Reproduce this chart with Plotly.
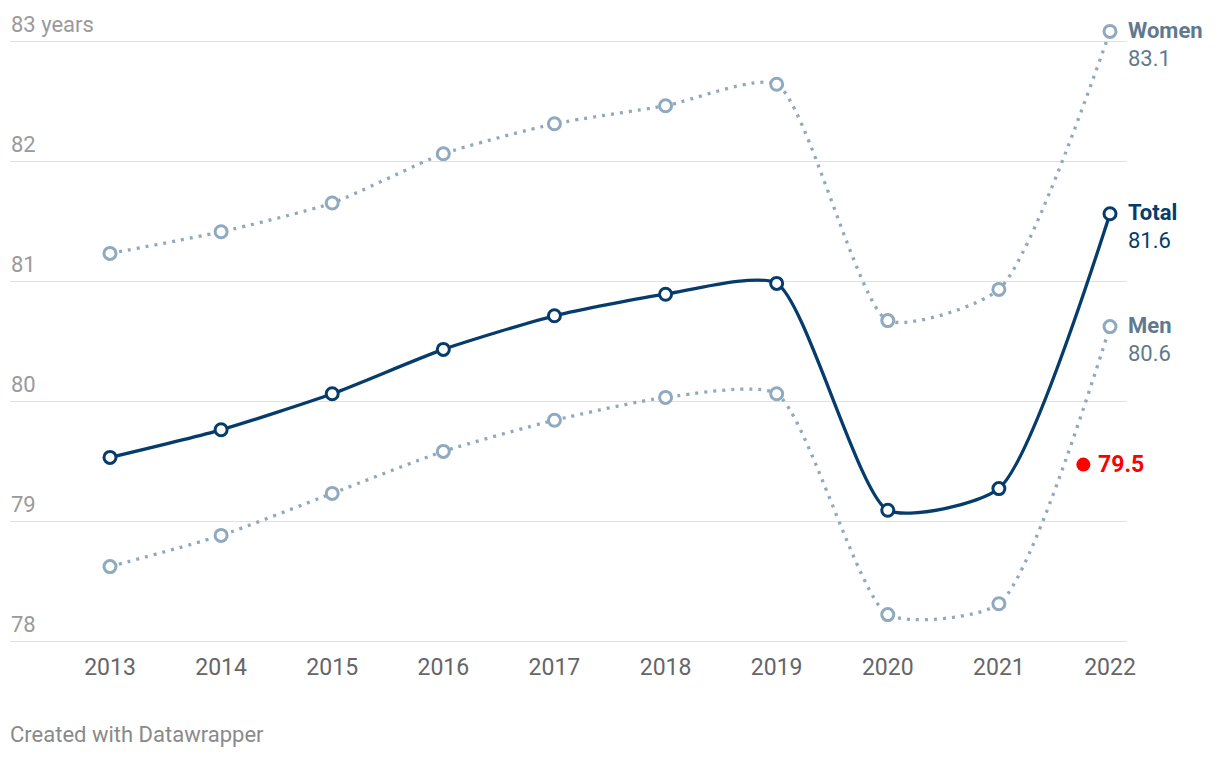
import plotly.graph_objects as go

years = [2013, 2014, 2015, 2016, 2017, 2018, 2019, 2020, 2021, 2022]
women = [81.23, 81.41, 81.65, 82.06, 82.31, 82.46, 82.64, 80.67, 80.93, 83.08]
total = [79.53, 79.76, 80.06, 80.43, 80.71, 80.89, 80.98, 79.09, 79.27, 81.56]
men = [78.62, 78.88, 79.23, 79.58, 79.84, 80.03, 80.06, 78.22, 78.31, 80.62]
highlight_x = [2021.76]
highlight_y = [79.47]
y_ticks = [78, 79, 80, 81, 82, 83]
y_ticktext = ["78", "79", "80", "81", "82", "83 years"]

DARK = "#063c6b"
LIGHT = "#8faabf"
LABEL = "#5f7a8f"
FONT = "Roboto"

fig = go.Figure()

def add_series(y, color, dash, name):
    fig.add_trace(go.Scatter(
        x=years, y=y, mode="lines+markers", name=name,
        line=dict(color=color, width=3.3, dash=dash, shape="spline", smoothing=0.6),
        marker=dict(size=12, color="white", line=dict(color=color, width=3)),
        cliponaxis=False, hoverinfo="x+y",
    ))

add_series(women, LIGHT, "3px,6px", "Women")
add_series(men, LIGHT, "3px,6px", "Men")
add_series(total, DARK, "solid", "Total")

fig.add_trace(go.Scatter(
    x=highlight_x, y=highlight_y, mode="markers",
    marker=dict(size=14, color="#ff0000"),
    cliponaxis=False, hoverinfo="skip",
))
fig.add_annotation(x=highlight_x[0], y=highlight_y[0], xref="x", yref="y",
                   text=f"<b>{highlight_y[0]:.1f}</b>", showarrow=False,
                   xanchor="left", yanchor="middle", xshift=13, yshift=0,
                   font=dict(family=FONT, size=23, color="#ff0000"))

for name, vals, col in [("Women", women, LABEL), ("Total", total, DARK), ("Men", men, LABEL)]:
    fig.add_annotation(x=years[-1], y=vals[-1], xref="x", yref="y",
                       text=f"<b>{name}</b>", showarrow=False, xanchor="left", yanchor="middle",
                       xshift=16, yshift=1, font=dict(family=FONT, size=22, color=col))
    fig.add_annotation(x=years[-1], y=vals[-1], xref="x", yref="y",
                       text=f"{vals[-1]:.1f}", showarrow=False, xanchor="left", yanchor="middle",
                       xshift=16, yshift=-27, font=dict(family=FONT, size=22, color=col))

# y-axis tick labels, placed above their gridlines at the left edge
for v, t in zip(y_ticks, y_ticktext):
    fig.add_annotation(x=0, y=v, xref="paper", yref="y", text=t, showarrow=False,
                       xanchor="left", yanchor="middle", xshift=-1, yshift=17,
                       font=dict(family=FONT, size=22, color="#9a9a9a"))

fig.add_annotation(x=0, y=0, xref="paper", yref="paper", text="Created with Datawrapper",
                   showarrow=False, xanchor="left", yanchor="middle", xshift=-2, yshift=-75,
                   font=dict(family=FONT, size=22, color="#8a8a8a"))

fig.update_layout(
    width=1212, height=750,
    margin=dict(l=2, r=93, t=9, b=99),
    paper_bgcolor="white", plot_bgcolor="white",
    showlegend=False,
    font=dict(family=FONT, size=20, color="#666666"),
    xaxis=dict(range=[2012.1, 2022.153], tickvals=years, ticktext=[str(y) for y in years],
               showgrid=False, zeroline=False, showline=False,
               ticks="", ticklabelstandoff=-8,
               tickfont=dict(family=FONT, size=23, color="#666666")),
    yaxis=dict(range=[77.85, 83.2], tickvals=y_ticks, showticklabels=False,
               showgrid=True, gridcolor="#e1e1e1", gridwidth=1, zeroline=False,
               showline=False),
)

fig.write_html("out.html")
